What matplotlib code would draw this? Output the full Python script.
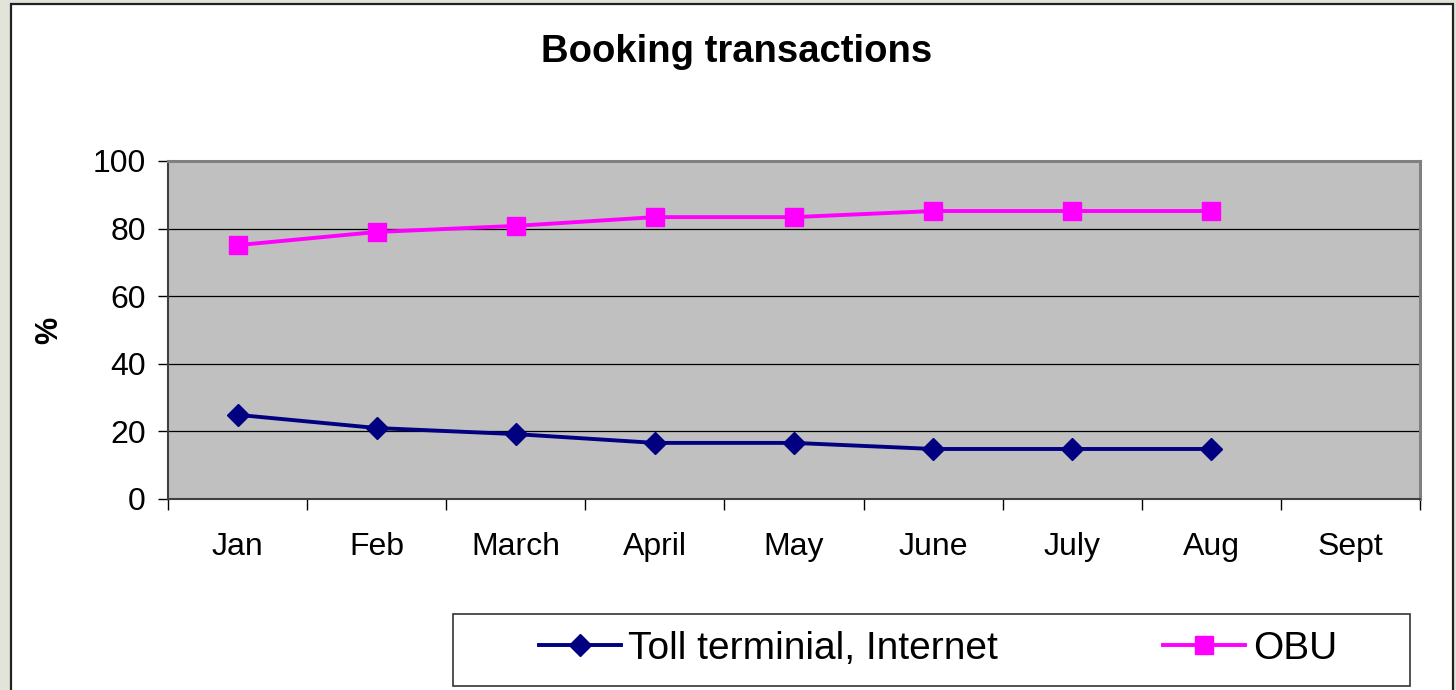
import numpy as np
import matplotlib
matplotlib.use("Agg")
import matplotlib.pyplot as plt
from matplotlib.patches import Rectangle

plt.rcParams['font.family'] = ['Liberation Sans', 'DejaVu Sans']

months = ["Jan", "Feb", "March", "April", "May", "June", "July", "Aug", "Sept"]
toll = [24.9, 21.0, 19.2, 16.6, 16.6, 14.8, 14.8, 14.8]
obu = [75.1, 79.0, 80.8, 83.4, 83.4, 85.2, 85.2, 85.2]
yticks = [0, 20, 40, 60, 80, 100]

W, H = 1456, 690
fig = plt.figure(figsize=(W / 100, H / 100), dpi=100, facecolor="#e2e4da")

# white chart panel with border, over the slide background
fig.patches.append(Rectangle((11 / W, -0.02), (1453 - 11) / W, (690 - 4) / H + 0.02,
                             transform=fig.transFigure, facecolor="white",
                             edgecolor="#222222", linewidth=1.6, zorder=-2))
# legend frame
fig.patches.append(Rectangle((453 / W, 1 - 686 / H), 957 / W, 72 / H,
                             transform=fig.transFigure, facecolor="white",
                             edgecolor="#333333", linewidth=1.2, zorder=-1))

ax = fig.add_axes([168 / W, (H - 499) / H, (1420 - 168) / W, (499 - 161) / H])
ax.set_facecolor("#c0c0c0")

x = np.arange(len(toll))
ax.plot(x, toll, color="#000080", lw=2.8, marker="D", ms=11.5,
        label="Toll terminial, Internet", zorder=3)
ax.plot(x, obu, color="#ff00ff", lw=2.8, marker="s", ms=12.5,
        label="OBU", zorder=3)

ax.set_xlim(-0.5, len(months) - 0.5)
ax.set_ylim(0, 100)
ax.set_yticks(yticks)
ax.set_yticklabels([str(v) for v in yticks])
ax.yaxis.grid(True, color="black", lw=0.9)
ax.set_axisbelow(True)

ax.set_xticks(np.arange(-0.5, len(months)))
ax.set_xticklabels([])
ax.set_xticks(np.arange(len(months)), minor=True)
ax.set_xticklabels(months, minor=True)
ax.tick_params(axis="x", which="major", length=8, width=1, direction="out")
ax.tick_params(axis="x", which="minor", length=0, pad=24, labelsize=23)
ax.tick_params(axis="y", length=7, width=1, pad=9, labelsize=23)

for s in ["top", "right"]:
    ax.spines[s].set_color("#808080")
    ax.spines[s].set_linewidth(2.2)
for s in ["left", "bottom"]:
    ax.spines[s].set_color("#404040")
    ax.spines[s].set_linewidth(1.5)

ax.set_ylabel("%", fontsize=22, fontweight="bold", labelpad=20)

fig.text(737 / W, 1 - 52 / H, "Booking transactions", fontsize=27.5,
         fontweight="bold", ha="center", va="center")

leg = fig.legend(loc="center", bbox_to_anchor=(938 / W, 1 - 649 / H),
                 ncol=2, fontsize=28, frameon=False,
                 handlelength=2.1, handletextpad=0.2, columnspacing=4.25,
                 borderaxespad=0)

fig.savefig("out.png", dpi=100, facecolor=fig.get_facecolor())
